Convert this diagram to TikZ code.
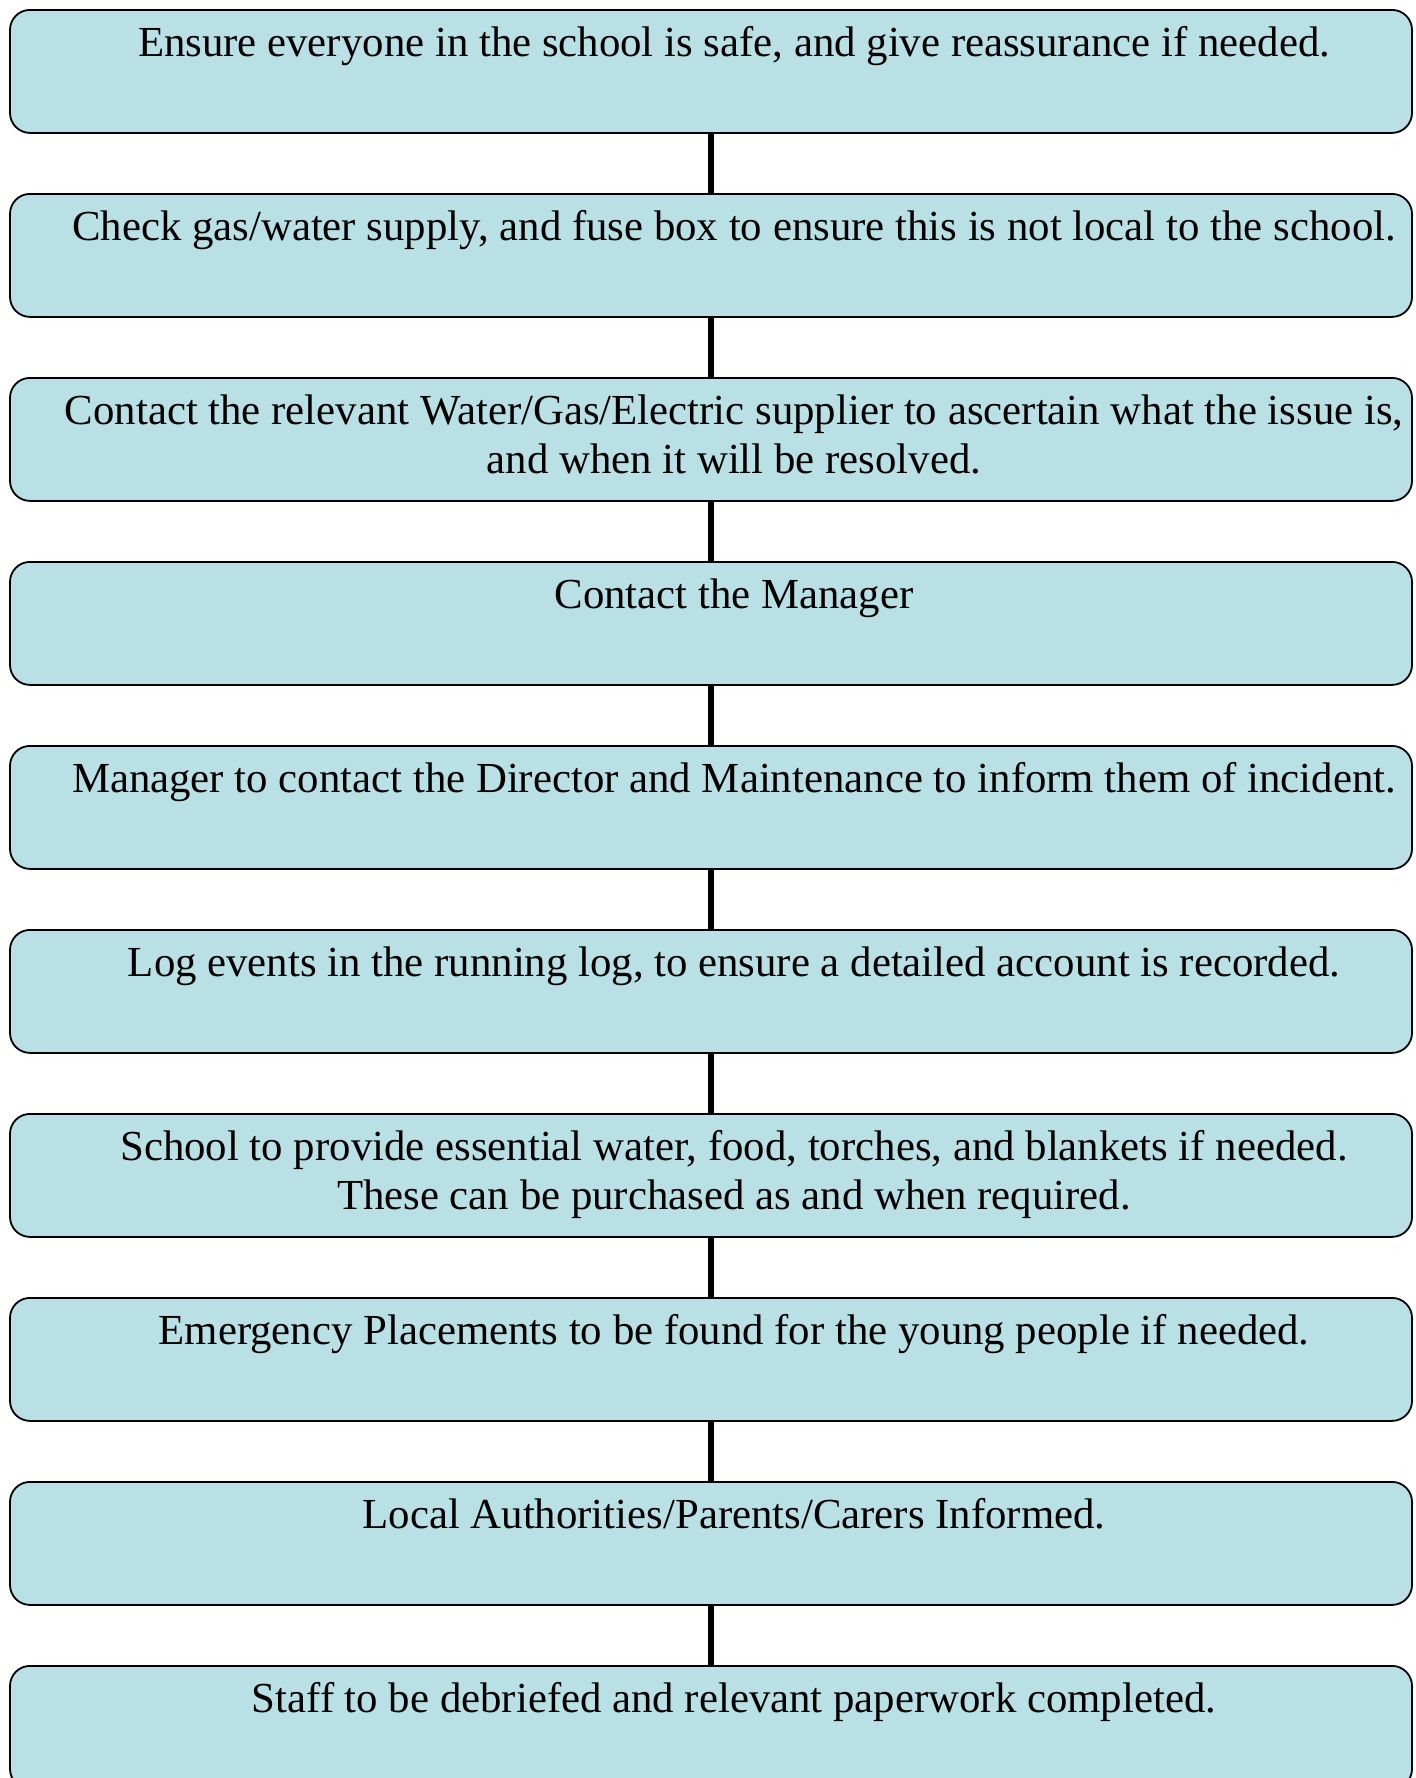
\documentclass[tikz,border=0pt]{standalone}
\usepackage{fontspec}
\setmainfont{Liberation Serif}
\definecolor{boxfill}{RGB}{185,224,228}
\begin{document}
\begin{tikzpicture}[x=1pt,y=1pt,
  stepbox/.style={draw=black,line width=1.8pt,fill=boxfill,rounded corners=20pt,
    minimum width=1402pt,minimum height=123pt,inner sep=0pt,anchor=north},
  steptext/.style={anchor=north,inner sep=0pt,align=center,
    font=\fontsize{42.8}{49}\selectfont},
  link/.style={line width=6pt}]
\useasboundingbox (0,0) rectangle (1416,-1778);
\clip (0,0) rectangle (1416,-1778);
\foreach \i in {1,...,10}{
  \node[stepbox] (b\i) at (711,{-9-184*(\i-1)}) {};
}
\foreach \i/\t in {
 1/{Ensure everyone in the school is safe, and give reassurance if needed.},
 2/{Check gas/water supply, and fuse box to ensure this is not local to the school.},
 3/{Contact the relevant Water/Gas/Electric supplier to ascertain what the issue is,\\and when it will be resolved.},
 4/{Contact the Manager},
 5/{Manager to contact the Director and Maintenance to inform them of incident.},
 6/{Log events in the running log, to ensure a detailed account is recorded.},
 7/{School to provide essential water, food, torches, and blankets if needed.\\These can be purchased as and when required.},
 8/{Emergency Placements to be found for the young people if needed.},
 9/{Local Authorities/Parents/Carers Informed.},
 10/{Staff to be debriefed and relevant paperwork completed.}}{
  \node[steptext] (t\i) at (734,{-18-184*(\i-1)}) {\rule{0pt}{38pt}\t};
}
\foreach \i [evaluate=\i as \j using int(\i+1)] in {1,...,9}{
  \draw[link] (b\i.south) -- (b\j.north);
}
\end{tikzpicture}
\end{document}
